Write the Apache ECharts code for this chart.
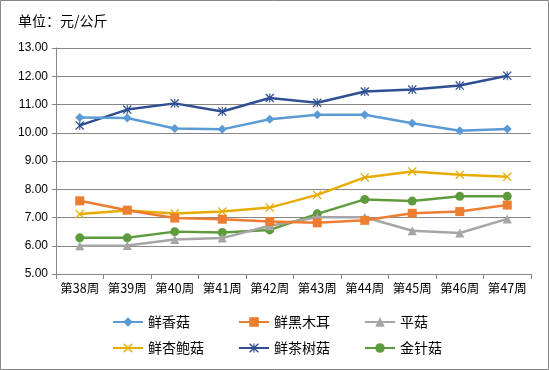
<!DOCTYPE html>
<html><head><meta charset="utf-8">
<script src="https://cdn.jsdelivr.net/npm/echarts@6/dist/echarts.min.js"></script>
<style>html,body{margin:0;padding:0;background:#fff}#c{width:549px;height:370px}</style>
</head><body><div id="c"></div>
<script>
const categories = ['第38周','第39周','第40周','第41周','第42周','第43周','第44周','第45周','第46周','第47周'];
const seriesNames = ['鲜香菇','鲜黑木耳','平菇','鲜杏鲍菇','鲜茶树菇','金针菇'];
const xiangGu   = [10.54,10.52,10.15,10.12,10.48,10.64,10.64,10.34,10.07,10.13];
const heiMuEr   = [7.59,7.26,6.98,6.94,6.86,6.81,6.90,7.15,7.21,7.44];
const pingGu    = [6.00,6.01,6.22,6.27,6.71,7.01,7.01,6.53,6.45,6.95];
const xingBaoGu = [7.12,7.25,7.14,7.21,7.35,7.80,8.42,8.63,8.51,8.44];
const chaShuGu  = [10.26,10.82,11.04,10.75,11.23,11.06,11.46,11.53,11.67,12.02];
const jinZhenGu = [6.28,6.28,6.50,6.47,6.56,7.13,7.64,7.58,7.75,7.75];
const yTicks = [5,6,7,8,9,10,11,12,13];

const dataSets = [xiangGu, heiMuEr, pingGu, xingBaoGu, chaShuGu, jinZhenGu];
const colors = ['#5B9BD5','#ED7D31','#A5A5A5','#E8AC00','#2F4F93','#5E9B3C'];
const X = 'path://M0,1L1,0L5,4L9,0L10,1L6,5L10,9L9,10L5,6L1,10L0,9L4,5Z';
const AST = 'path://M0,1L1,0L5,4L9,0L10,1L6,5L10,9L9,10L5,6L1,10L0,9L4,5Z M4.4,0L5.6,0L5.6,10L4.4,10Z';
const symbols = ['diamond','rect','triangle',X,AST,'circle'];
const sizes = [9,9,9,9,9,9];
const font = '"Noto Sans CJK SC", sans-serif';

const chart = echarts.init(document.getElementById('c'), null, {renderer:'canvas'});
const series = seriesNames.map((n,i)=>({
  name:n, type:'line', data:dataSets[i], symbol:symbols[i], symbolSize:sizes[i],
  showAllSymbol:true,
  lineStyle:{color:colors[i], width:2.5},
  itemStyle:{color:colors[i]},
  z: 10 - i
}));
function legend(names,left){
  return {show:true, orient:'vertical', left:left, top:310, itemWidth:30, itemHeight:12, itemGap:12,
    data:names, textStyle:{fontFamily:font, fontSize:14, color:'#000'}};
}
chart.setOption({
  animation:false,
  textStyle:{fontFamily:font},
  title:{text:'单位：元/公斤', left:13, top:9, textStyle:{fontFamily:font, fontSize:14, fontWeight:'normal', color:'#000'}},
  grid:{left:56, right:18, top:48, bottom:96},
  legend:[legend(['鲜香菇','鲜杏鲍菇'],107), legend(['鲜黑木耳','鲜茶树菇'],233), legend(['平菇','金针菇'],359)],
  xAxis:{type:'category', data:categories, boundaryGap:true,
    axisLine:{lineStyle:{color:'#868686', width:1}},
    axisTick:{show:true, length:5, lineStyle:{color:'#868686'}},
    axisLabel:{color:'#000', fontSize:12.5, fontFamily:font, margin:8, interval:0}},
  yAxis:{type:'value', min:yTicks[0], max:yTicks[yTicks.length-1], interval:1,
    axisLine:{show:true, lineStyle:{color:'#868686'}},
    axisTick:{show:true, length:4, lineStyle:{color:'#868686'}},
    splitLine:{lineStyle:{color:'#868686', width:1}},
    axisLabel:{color:'#000', fontSize:12, fontFamily:'"Liberation Sans", sans-serif', margin:8, formatter:v=>v.toFixed(2)}},
  graphic:[{type:'rect', shape:{x:0.5,y:0.5,width:548,height:369}, style:{fill:'none', stroke:'#868686', lineWidth:1}, silent:true, z:100}],
  series: series
});
</script></body></html>
